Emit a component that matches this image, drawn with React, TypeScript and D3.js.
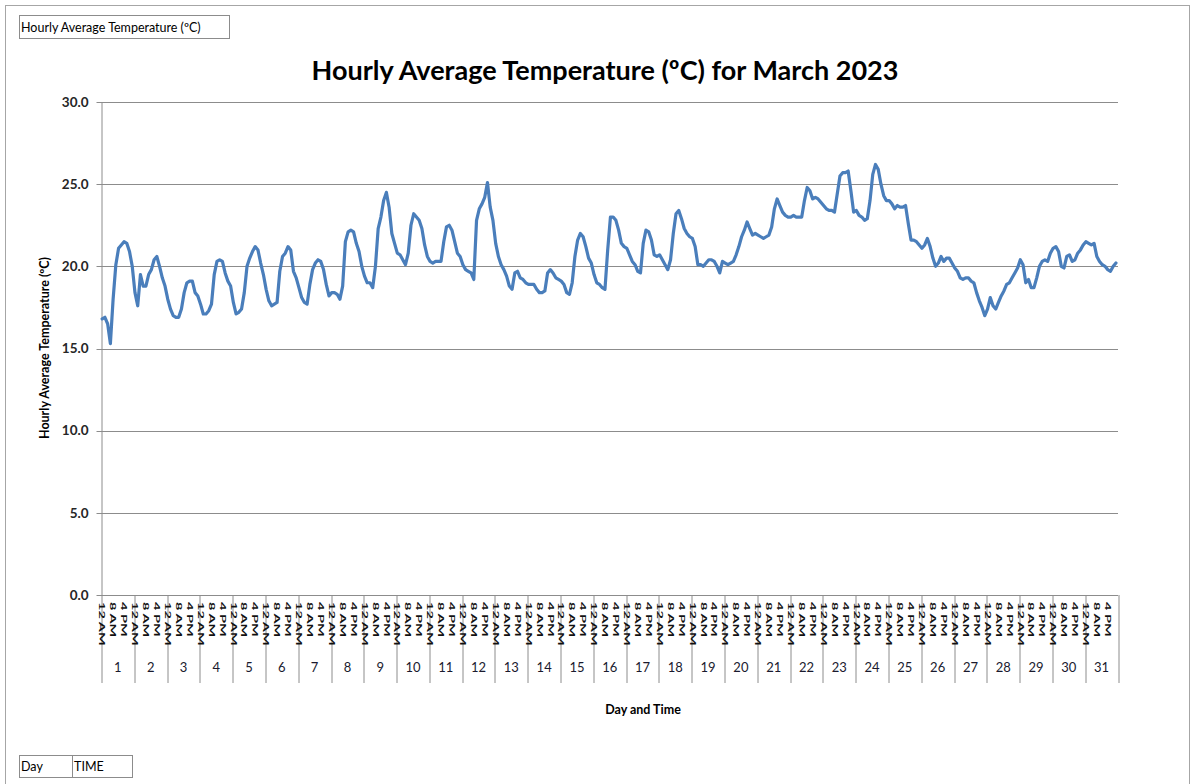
import React, { useEffect, useRef } from 'react';
import * as d3 from 'd3';

// chart text
const chartTitle = 'Hourly Average Temperature (ºC) for March 2023';
const yAxisTitle = 'Hourly Average Temperature (ºC)';
const xAxisTitle = 'Day and Time';
const seriesName = 'Hourly Average Temperature (ºC)';
const fieldNames = ['Day', 'TIME'];

// categories
const days = d3.range(1, 32);
const hoursPerDay = 24;
const timeLabels = ['12 AM', '8 AM', '4 PM'];
const timeLabelHours = [0, 8, 16];
const yTicks = [0, 5, 10, 15, 20, 25, 30];

// readings every 2 hours (12 per day)
const temps2h = [
  16.8, 16.9, 16.5, 15.3, 18.0, 20.1, 21.1, 21.3, 21.5, 21.4, 20.9, 20.0, // 1
  18.4, 17.6, 19.5, 18.8, 18.8, 19.5, 19.8, 20.4, 20.6, 20.0, 19.3, 18.8, // 2
  18.0, 17.4, 17.0, 16.9, 16.9, 17.4, 18.4, 19.0, 19.1, 19.1, 18.4, 18.2, // 3
  17.7, 17.1, 17.1, 17.3, 17.7, 19.5, 20.3, 20.4, 20.3, 19.6, 19.1, 18.8, // 4
  17.8, 17.1, 17.2, 17.4, 18.4, 20.0, 20.5, 20.9, 21.2, 21.0, 20.2, 19.5, // 5
  18.6, 17.9, 17.6, 17.7, 17.8, 19.7, 20.6, 20.8, 21.2, 21.0, 19.7, 19.3, // 6
  18.7, 18.1, 17.8, 17.7, 18.9, 19.8, 20.2, 20.4, 20.3, 19.8, 18.9, 18.2, // 7
  18.4, 18.4, 18.3, 18.0, 18.8, 21.5, 22.1, 22.2, 22.1, 21.4, 20.9, 20.0, // 8
  19.4, 19.0, 19.0, 18.7, 20.0, 22.3, 23.0, 24.0, 24.5, 23.6, 22.0, 21.4, // 9
  20.8, 20.7, 20.4, 20.1, 20.8, 22.5, 23.2, 23.0, 22.8, 22.3, 21.3, 20.6, // 10
  20.3, 20.2, 20.3, 20.3, 20.3, 21.5, 22.4, 22.5, 22.2, 21.5, 20.8, 20.6, // 11
  20.1, 19.8, 19.7, 19.6, 19.2, 22.8, 23.5, 23.8, 24.2, 25.1, 23.6, 22.8, // 12
  21.4, 20.6, 20.1, 19.8, 19.4, 18.8, 18.6, 19.6, 19.7, 19.3, 19.2, 19.0, // 13
  18.9, 18.9, 18.9, 18.6, 18.4, 18.4, 18.5, 19.6, 19.8, 19.6, 19.3, 19.2, // 14
  19.1, 18.9, 18.4, 18.3, 19.0, 20.6, 21.6, 22.0, 21.8, 21.2, 20.5, 20.2, // 15
  19.5, 19.0, 18.9, 18.7, 18.6, 21.0, 23.0, 23.0, 22.8, 22.2, 21.4, 21.2, // 16
  21.1, 20.7, 20.3, 20.1, 19.7, 19.6, 21.4, 22.2, 22.1, 21.6, 20.7, 20.6, // 17
  20.7, 20.4, 20.1, 19.8, 20.4, 22.0, 23.2, 23.4, 22.9, 22.3, 22.0, 21.8, // 18
  21.7, 21.2, 20.1, 20.1, 20.0, 20.2, 20.4, 20.4, 20.3, 20.0, 19.6, 20.3, // 19
  20.2, 20.1, 20.2, 20.3, 20.7, 21.2, 21.8, 22.2, 22.7, 22.3, 21.9, 22.0, // 20
  21.9, 21.8, 21.7, 21.8, 21.9, 22.4, 23.5, 24.1, 23.7, 23.3, 23.1, 23.0, // 21
  23.0, 23.1, 23.0, 23.0, 23.0, 24.0, 24.8, 24.6, 24.1, 24.2, 24.1, 23.9, // 22
  23.7, 23.5, 23.4, 23.4, 23.3, 24.4, 25.5, 25.7, 25.7, 25.8, 24.6, 23.3, // 23
  23.4, 23.1, 23.0, 22.8, 22.9, 24.0, 25.6, 26.2, 25.9, 25.0, 24.3, 24.0, // 24
  24.0, 23.8, 23.5, 23.7, 23.6, 23.6, 23.7, 22.6, 21.6, 21.6, 21.5, 21.3, // 25
  21.1, 21.3, 21.7, 21.2, 20.5, 20.0, 20.2, 20.6, 20.3, 20.5, 20.5, 20.2, // 26
  19.9, 19.7, 19.3, 19.2, 19.3, 19.3, 19.1, 19.0, 18.4, 17.9, 17.5, 17.0, // 27
  17.4, 18.1, 17.6, 17.4, 17.8, 18.2, 18.5, 18.9, 19.0, 19.3, 19.6, 19.9, // 28
  20.4, 20.1, 19.0, 19.2, 18.7, 18.7, 19.3, 20.0, 20.3, 20.4, 20.3, 20.8, // 29
  21.1, 21.2, 20.9, 20.0, 19.9, 20.6, 20.7, 20.3, 20.4, 20.8, 21.0, 21.3, // 30
  21.5, 21.4, 21.3, 21.4, 20.6, 20.3, 20.1, 20.0, 19.8, 19.7, 20.0, 20.2, // 31
];

const W = 1198;
const H = 784;
const font = 'Lato, "Open Sans", sans-serif';

function TemperatureChart() {
  const ref = useRef<SVGSVGElement>(null);

  useEffect(() => {
    const svg = d3.select(ref.current);
    svg.selectAll('*').remove();

    const margin = { top: 102, right: 80, bottom: 189, left: 101.5 };
    const width = W - margin.left - margin.right;
    const height = H - margin.top - margin.bottom;
    const nHours = days.length * hoursPerDay;

    // outer chart frame
    svg.append('rect')
      .attr('x', 5.5).attr('y', 5.5)
      .attr('width', 1184).attr('height', 820)
      .attr('fill', '#fff').attr('stroke', '#a6a6a6');

    // field buttons
    const fb = svg.append('g').attr('font-family', font).attr('font-size', 12.5).attr('fill', '#000');
    fb.append('rect').attr('x', 19.5).attr('y', 15.5).attr('width', 210).attr('height', 23)
      .attr('fill', '#fff').attr('stroke', '#8c8c8c');
    fb.append('text').attr('x', 21).attr('y', 31.5).text(seriesName);
    fb.append('rect').attr('x', 19.5).attr('y', 755.5).attr('width', 113).attr('height', 22)
      .attr('fill', '#fff').attr('stroke', '#8c8c8c');
    fb.append('line').attr('x1', 72.5).attr('x2', 72.5).attr('y1', 755.5).attr('y2', 777.5).attr('stroke', '#8c8c8c');
    fb.append('text').attr('x', 21).attr('y', 771).text(fieldNames[0]);
    fb.append('text').attr('x', 74).attr('y', 771).text(fieldNames[1]);

    // title
    svg.append('text')
      .attr('x', 605).attr('y', 80)
      .attr('text-anchor', 'middle')
      .attr('font-family', font).attr('font-size', 27).attr('font-weight', 'bold')
      .attr('fill', '#000')
      .text(chartTitle);

    const g = svg.append('g').attr('transform', `translate(${margin.left},${margin.top})`);

    const x = d3.scaleLinear().domain([0, nHours]).range([0, width]);
    const y = d3.scaleLinear().domain([0, 30]).range([height, 0]);

    // gridlines
    g.append('g')
      .selectAll('line')
      .data(yTicks)
      .enter().append('line')
      .attr('x1', -5).attr('x2', width)
      .attr('y1', d => Math.round(y(d)) + 0.5)
      .attr('y2', d => Math.round(y(d)) + 0.5)
      .attr('stroke', '#8c8c8c');

    // y axis line
    g.append('line')
      .attr('x1', 0.5).attr('x2', 0.5)
      .attr('y1', 0).attr('y2', height)
      .attr('stroke', '#8c8c8c');

    // y tick labels
    g.append('g')
      .selectAll('text')
      .data(yTicks)
      .enter().append('text')
      .attr('x', -13)
      .attr('y', d => y(d))
      .attr('dy', '0.35em')
      .attr('text-anchor', 'end')
      .attr('font-family', font).attr('font-size', 13.5).attr('font-weight', 'bold')
      .attr('fill', '#262626')
      .text(d => d3.format('.1f')(d));

    // y axis title
    svg.append('text')
      .attr('transform', 'translate(49,348) rotate(-90)')
      .attr('text-anchor', 'middle')
      .attr('font-family', font).attr('font-size', 12.5).attr('font-weight', 'bold')
      .attr('fill', '#000')
      .text(yAxisTitle);

    // day dividers on the category axis
    g.append('g')
      .selectAll('line')
      .data(d3.range(days.length + 1))
      .enter().append('line')
      .attr('x1', d => Math.round(x(d * hoursPerDay)) + 0.5)
      .attr('x2', d => Math.round(x(d * hoursPerDay)) + 0.5)
      .attr('y1', height).attr('y2', height + 88)
      .attr('stroke', '#8c8c8c');

    // time labels (rotated, squeezed like the original)
    const tl = g.append('g').attr('font-family', font).attr('font-size', 14.5)
      .attr('font-weight', 'bold').attr('fill', '#111');
    days.forEach((day, di) => {
      timeLabels.forEach((lab, li) => {
        const hx = x(di * hoursPerDay + timeLabelHours[li] + 0.5);
        tl.append('text')
          .attr('transform', `translate(${hx},${height + 7}) rotate(90) scale(1,0.55)`)
          .attr('dy', '0.35em')
          .text(lab);
      });
    });

    // day labels
    g.append('g')
      .selectAll('text')
      .data(days)
      .enter().append('text')
      .attr('x', (d, i) => x((i + 0.5) * hoursPerDay))
      .attr('y', height + 77)
      .attr('text-anchor', 'middle')
      .attr('font-family', font).attr('font-size', 13)
      .attr('fill', '#1a1a2e')
      .text(d => d);

    // x axis title
    svg.append('text')
      .attr('x', 643).attr('y', 714)
      .attr('text-anchor', 'middle')
      .attr('font-family', font).attr('font-size', 12.5).attr('font-weight', 'bold')
      .attr('fill', '#000')
      .text(xAxisTitle);

    // the series
    const line = d3.line<number>()
      .x((d, i) => x(i * 2 + 0.5))
      .y(d => y(d))
      .curve(d3.curveLinear);

    g.append('path')
      .datum(temps2h)
      .attr('fill', 'none')
      .attr('stroke', '#4a7ebb')
      .attr('stroke-width', 3.2)
      .attr('stroke-linejoin', 'round')
      .attr('stroke-linecap', 'round')
      .attr('d', line);
  }, []);

  return (
    <svg ref={ref} width={W} height={H}
      style={{ position: 'absolute', left: 0, top: 0, background: '#fff' }} />
  );
}

export default function App() {
  return <TemperatureChart />;
}
